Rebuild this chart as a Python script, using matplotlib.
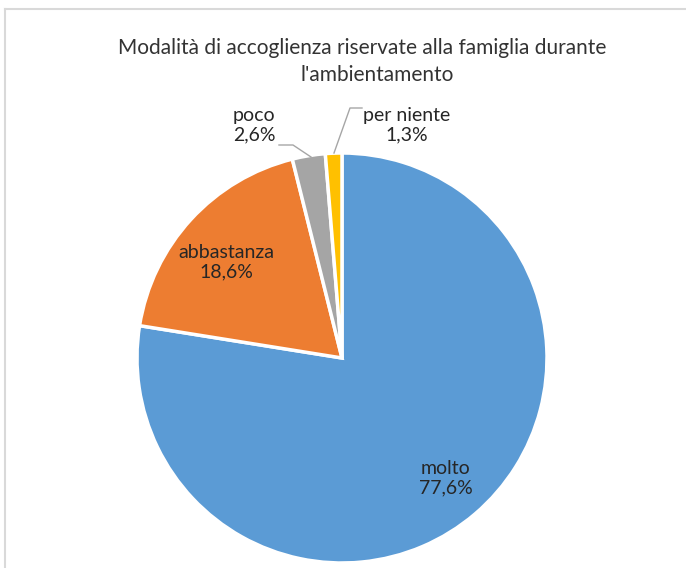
import matplotlib
matplotlib.use('Agg')
import matplotlib.pyplot as plt

# dati
categorie = ['molto', 'abbastanza', 'poco', 'per niente']
valori = [77.6, 18.6, 2.6, 1.3]
etichette_pct = ['77,6%', '18,6%', '2,6%', '1,3%']
colori = ['#5B9BD5', '#ED7D31', '#A5A5A5', '#FFC000']

plt.rcParams['font.family'] = ['Lato', 'DejaVu Sans']

W, H = 686, 568
fig = plt.figure(figsize=(W / 100, H / 100), dpi=100)
fig.patch.set_facecolor('white')

# cornice del grafico (bordo grigio sinistro e superiore)
fig.add_artist(plt.Line2D([5 / W, 5 / W], [0, 1 - 9 / H], color='#D9D9D9', lw=1.5))
fig.add_artist(plt.Line2D([5 / W, 1], [1 - 9 / H, 1 - 9 / H], color='#D9D9D9', lw=1.5))

fig.text(362 / W, 1 - 48 / H, "Modalità di accoglienza riservate alla famiglia durante",
         ha='center', va='center', fontsize=15, color='#333333')
fig.text(377 / W, 1 - 75 / H, "l'ambientamento",
         ha='center', va='center', fontsize=15, color='#333333')

cx, cy, r = 342, 358, 205
ax = fig.add_axes([(cx - r) / W, (H - cy - r) / H, 2 * r / W, 2 * r / H])
wedges, _ = ax.pie(valori, colors=colori, startangle=90, counterclock=False,
                   radius=1.0, wedgeprops=dict(edgecolor='white', linewidth=2.5))
ax.set_xlim(-1, 1)
ax.set_ylim(-1, 1)
ax.set_aspect('equal')
ax.axis('off')


def px(x, y):
    # da pixel immagine a coordinate dati dell'asse
    return (x - cx) / r, (cy - y) / r


txt = dict(ha='center', va='center', fontsize=14, color='#262626', linespacing=1.2)
ax.text(*px(446, 478), f'{categorie[0]}\n{etichette_pct[0]}', **txt)
ax.text(*px(226, 262), f'{categorie[1]}\n{etichette_pct[1]}', **txt)
ax.text(*px(254, 125), f'{categorie[2]}\n{etichette_pct[2]}', **txt)
ax.text(*px(407, 125), f'{categorie[3]}\n{etichette_pct[3]}', **txt)

# linee guida
lp = [px(279, 145), px(293, 145), px(311, 157)]
ax.plot([p[0] for p in lp], [p[1] for p in lp], color='#A6A6A6', lw=1, clip_on=False)
ln = [px(362, 108), px(350, 108), px(334, 153)]
ax.plot([p[0] for p in ln], [p[1] for p in ln], color='#A6A6A6', lw=1, clip_on=False)

fig.savefig('out.png', dpi=100)
